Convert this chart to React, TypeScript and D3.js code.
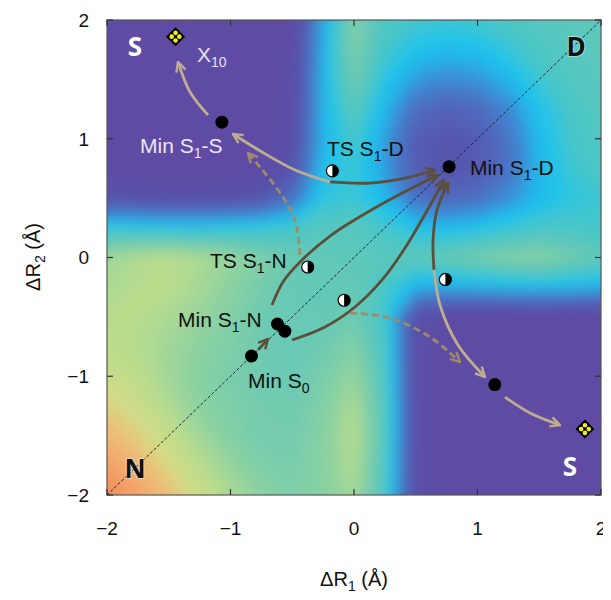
import React, { useEffect, useRef } from 'react';
import * as d3 from 'd3';

// grid of the energy surface, step 0.25 A, rows go from dR2 = 2 (top) to -2
const xGrid = d3.range(-2, 2.001, 0.25);
const yGrid = d3.range(2, -2.001, -0.25);
const energyRows = [
  [0.03, 0.02, 0.02, 0.02, 0.02, 0.02, 0.04, 0.32, 0.56, 0.44, 0.42, 0.41, 0.42, 0.44, 0.46, 0.47, 0.48],
  [0.03, 0.02, 0.02, 0.02, 0.02, 0.02, 0.05, 0.33, 0.55, 0.42, 0.37, 0.35, 0.36, 0.40, 0.44, 0.46, 0.48],
  [0.03, 0.02, 0.02, 0.02, 0.02, 0.03, 0.06, 0.34, 0.52, 0.38, 0.30, 0.27, 0.29, 0.34, 0.41, 0.45, 0.47],
  [0.03, 0.02, 0.02, 0.02, 0.02, 0.03, 0.07, 0.34, 0.47, 0.34, 0.21, 0.17, 0.20, 0.27, 0.37, 0.43, 0.46],
  [0.03, 0.02, 0.02, 0.02, 0.02, 0.03, 0.08, 0.34, 0.43, 0.31, 0.15, 0.12, 0.14, 0.23, 0.35, 0.42, 0.45],
  [0.04, 0.03, 0.03, 0.03, 0.03, 0.04, 0.12, 0.36, 0.41, 0.30, 0.15, 0.11, 0.14, 0.22, 0.34, 0.41, 0.44],
  [0.12, 0.10, 0.09, 0.09, 0.10, 0.12, 0.22, 0.39, 0.41, 0.34, 0.22, 0.19, 0.22, 0.28, 0.35, 0.39, 0.41],
  [0.40, 0.39, 0.38, 0.38, 0.39, 0.40, 0.42, 0.46, 0.46, 0.42, 0.37, 0.35, 0.37, 0.40, 0.43, 0.43, 0.42],
  [0.62, 0.65, 0.67, 0.64, 0.60, 0.55, 0.51, 0.49, 0.48, 0.47, 0.48, 0.50, 0.53, 0.56, 0.57, 0.53, 0.49],
  [0.64, 0.66, 0.67, 0.63, 0.58, 0.53, 0.50, 0.49, 0.50, 0.43, 0.33, 0.32, 0.33, 0.34, 0.35, 0.34, 0.33],
  [0.66, 0.66, 0.64, 0.60, 0.56, 0.52, 0.50, 0.50, 0.52, 0.42, 0.09, 0.04, 0.03, 0.03, 0.03, 0.03, 0.03],
  [0.68, 0.66, 0.62, 0.58, 0.55, 0.52, 0.50, 0.52, 0.56, 0.44, 0.08, 0.03, 0.02, 0.02, 0.02, 0.02, 0.02],
  [0.72, 0.68, 0.62, 0.57, 0.54, 0.52, 0.51, 0.54, 0.60, 0.45, 0.08, 0.03, 0.02, 0.02, 0.02, 0.02, 0.02],
  [0.78, 0.72, 0.65, 0.58, 0.55, 0.53, 0.52, 0.56, 0.64, 0.46, 0.08, 0.03, 0.02, 0.02, 0.02, 0.02, 0.02],
  [0.86, 0.78, 0.70, 0.62, 0.56, 0.53, 0.53, 0.57, 0.66, 0.46, 0.08, 0.03, 0.02, 0.02, 0.02, 0.02, 0.02],
  [0.94, 0.86, 0.76, 0.67, 0.60, 0.55, 0.54, 0.57, 0.65, 0.45, 0.08, 0.03, 0.02, 0.02, 0.02, 0.02, 0.02],
  [1.00, 0.93, 0.83, 0.72, 0.64, 0.58, 0.55, 0.57, 0.63, 0.44, 0.08, 0.03, 0.02, 0.02, 0.02, 0.02, 0.02],
];

const colorStops = [0, 0.1, 0.2, 0.28, 0.33, 0.37, 0.42, 0.5, 0.58, 0.66, 0.74, 0.82, 0.91, 1];
const colorRange = ['#614aa2', '#5852a9', '#4f6bc0', '#3a90d6', '#22b6ea', '#22c4ea', '#48c6c8', '#68c9b4', '#8ed2a0', '#b8dc8e', '#d2dc86', '#ecc07a', '#f4a66a', '#f28a5a'];

const ticks = [-2, -1, 0, 1, 2];

// stationary points
const minima = [
  { x: -0.83, y: -0.83 },
  { x: -0.62, y: -0.56 },
  { x: -0.56, y: -0.62 },
  { x: 0.77, y: 0.765 },
  { x: -1.07, y: 1.14 },
  { x: 1.14, y: -1.07 },
];
const transitionStates = [
  { x: -0.175, y: 0.73 },
  { x: -0.375, y: -0.08 },
  { x: -0.08, y: -0.36 },
  { x: 0.74, y: -0.185 },
];
const crossings = [
  { x: -1.445, y: 1.86 },
  { x: 1.87, y: -1.445 },
];

// reaction paths [x, y]
const paths = [
  { kind: 'olive', pts: [[-0.664, -0.4], [-0.575, -0.206], [-0.437, -0.038], [-0.194, 0.181], [0.211, 0.442], [0.68, 0.695]] },
  { kind: 'olive', pts: [[-0.502, -0.695], [-0.235, -0.585], [0.008, -0.417], [0.227, -0.189], [0.413, 0.08], [0.729, 0.653]] },
  { kind: 'olive', pts: [[0.648, -0.105], [0.64, 0.147], [0.672, 0.4], [0.761, 0.627]] },
  { kind: 'tan', pts: [[0.648, -0.105], [0.696, -0.4], [0.842, -0.737], [1.061, -1.006]] },
  { kind: 'olive', pts: [[-0.194, 0.636], [0.13, 0.627], [0.413, 0.669], [0.656, 0.737]] },
  { kind: 'tan', pts: [[-0.194, 0.636], [-0.478, 0.737], [-0.745, 0.888], [-0.98, 1.04]] },
  { kind: 'dash', pts: [[-0.437, 0.021], [-0.478, 0.316], [-0.615, 0.568], [-0.858, 0.88]] },
  { kind: 'dash', pts: [[-0.032, -0.467], [0.291, -0.509], [0.615, -0.669], [0.858, -0.88]] },
  { kind: 'tan', pts: [[-1.182, 1.2], [-1.328, 1.394], [-1.425, 1.646]] },
  { kind: 'tan', pts: [[1.223, -1.175], [1.425, -1.309], [1.668, -1.411]] },
  { kind: 'olive', pts: [[-0.777, -0.779], [-0.696, -0.686]] },
];

const labels = [
  { x: -1.733, y: 0.88, main: 'Min S', sub: '1', rest: '-S', color: '#ece8f4' },
  { x: -1.271, y: 1.646, main: 'X', sub: '10', rest: '', color: '#e4e0f0' },
  { x: -0.219, y: 0.855, main: 'TS S', sub: '1', rest: '-D', color: '#111' },
  { x: 0.939, y: 0.695, main: 'Min S', sub: '1', rest: '-D', color: '#111' },
  { x: -1.166, y: -0.088, main: 'TS S', sub: '1', rest: '-N', color: '#111' },
  { x: -1.425, y: -0.585, main: 'Min S', sub: '1', rest: '-N', color: '#111' },
  { x: -0.858, y: -1.103, main: 'Min S', sub: '0', rest: '', color: '#111' },
];
const regionLabels = [
  { x: -1.773, y: 1.773, text: 'S', color: '#fff' },
  { x: 1.798, y: 1.773, text: 'D', color: '#111' },
  { x: -1.773, y: -1.781, text: 'N', color: '#111' },
  { x: 1.749, y: -1.764, text: 'S', color: '#fff' },
];

const strokeOf = { olive: '#5b4e3b', tan: '#bdae8f', dash: '#9d8c6a' };

const App = () => {
  const svgRef = useRef(null);

  useEffect(() => {
    const svg = d3.select(svgRef.current);
    svg.selectAll('*').remove();
    const font = 'Liberation Sans, Arial, Helvetica, sans-serif';

    const x = d3.scaleLinear().domain([-2, 2]).range([107, 601]);
    const y = d3.scaleLinear().domain([-2, 2]).range([495, 20]);
    const color = d3.scaleLinear<string>().domain(colorStops).range(colorRange).interpolate(d3.interpolateRgb).clamp(true);

    const defs = svg.append('defs');
    defs.append('clipPath').attr('id', 'plotclip')
      .append('rect').attr('x', 107).attr('y', 20).attr('width', 494).attr('height', 475);
    defs.append('filter').attr('id', 'soft').attr('x', '-5%').attr('y', '-5%').attr('width', '110%').attr('height', '110%')
      .append('feGaussianBlur').attr('stdDeviation', 6);
    Object.entries(strokeOf).forEach(([k, c]) => {
      defs.append('marker').attr('id', 'head-' + k)
        .attr('viewBox', '0 0 10 10').attr('refX', 9).attr('refY', 5)
        .attr('markerWidth', 12).attr('markerHeight', 12)
        .attr('markerUnits', 'userSpaceOnUse').attr('orient', 'auto')
        .append('path').attr('d', 'M1,1 L9,5 L1,9')
        .attr('fill', 'none').attr('stroke', c).attr('stroke-width', 2).attr('stroke-linejoin', 'miter');
    });

    // heatmap via filled contours of the grid
    const nx = xGrid.length;
    const ny = yGrid.length;
    const values = energyRows.flat();
    const contours = d3.contours().size([nx, ny]).thresholds(d3.range(-0.01, 1.01, 0.01))(values);
    const step = 0.25;
    const proj = d3.geoTransform({
      point(cx, cy) {
        this.stream.point(x(xGrid[0] + (cx - 0.5) * step), y(yGrid[0] - (cy - 0.5) * step));
      },
    });
    const path = d3.geoPath(proj);
    const heat = svg.append('g').attr('clip-path', 'url(#plotclip)').append('g').attr('filter', 'url(#soft)');
    heat.selectAll('path').data(contours).enter().append('path')
      .attr('d', path)
      .attr('fill', (d) => color(d.value));

    const plot = svg.append('g').attr('clip-path', 'url(#plotclip)');

    // diagonal
    plot.append('line')
      .attr('x1', x(-2)).attr('y1', y(-2)).attr('x2', x(2)).attr('y2', y(2))
      .attr('stroke', '#16243f').attr('stroke-width', 1).attr('stroke-dasharray', '3,2');

    // region labels
    regionLabels.forEach((r) => {
      plot.append('text')
        .attr('x', x(r.x)).attr('y', y(r.y)).attr('dy', '0.36em')
        .attr('text-anchor', 'middle')
        .attr('font-family', 'Open Sans, Liberation Sans, sans-serif').attr('font-weight', 700).attr('font-size', 26)
        .attr('fill', r.color)
        .attr('stroke', r.color === '#fff' ? 'none' : 'rgba(255,255,255,0.45)').attr('stroke-width', 2)
        .attr('paint-order', 'stroke')
        .text(r.text);
    });

    // paths
    const line = d3.line().x((d) => x(d[0])).y((d) => y(d[1])).curve(d3.curveCatmullRom);
    paths.forEach((p) => {
      plot.append('path')
        .attr('d', line(p.pts))
        .attr('fill', 'none')
        .attr('stroke', strokeOf[p.kind])
        .attr('stroke-width', 2.8)
        .attr('stroke-dasharray', p.kind === 'dash' ? '7,4' : null)
        .attr('marker-end', `url(#head-${p.kind})`);
    });

    // minima
    plot.selectAll('circle.min').data(minima).enter().append('circle')
      .attr('class', 'min')
      .attr('cx', (d) => x(d.x)).attr('cy', (d) => y(d.y)).attr('r', 6.5)
      .attr('fill', '#000');

    // transition states: half white / half black
    transitionStates.forEach((d) => {
      const g = plot.append('g').attr('transform', `translate(${x(d.x)},${y(d.y)})`);
      g.append('circle').attr('r', 6).attr('fill', '#fff').attr('stroke', '#000').attr('stroke-width', 1.2);
      g.append('path').attr('d', 'M0,-6 A6,6 0 0 1 0,6 Z').attr('fill', '#000');
    });

    // crossing points
    crossings.forEach((d) => {
      const g = plot.append('g').attr('transform', `translate(${x(d.x)},${y(d.y)})`);
      g.append('path').attr('d', 'M0,-9.5 L9.5,0 L0,9.5 L-9.5,0 Z').attr('fill', '#000');
      [[0, -3.8], [3.8, 0], [0, 3.8], [-3.8, 0]].forEach(([dx, dy]) => {
        g.append('circle').attr('cx', dx).attr('cy', dy).attr('r', 2.3).attr('fill', '#f2ee1c');
      });
    });

    // point labels
    labels.forEach((l) => {
      const t = svg.append('text')
        .attr('x', x(l.x)).attr('y', y(l.y))
        .attr('font-family', font).attr('font-size', 21).attr('fill', l.color);
      t.append('tspan').text(l.main);
      t.append('tspan').attr('font-size', 14).attr('dy', 5).text(l.sub);
      if (l.rest) t.append('tspan').attr('dy', -5).text(l.rest);
    });

    // frame and ticks
    svg.append('rect')
      .attr('x', 107).attr('y', 20).attr('width', 494).attr('height', 475)
      .attr('fill', 'none').attr('stroke', '#555').attr('stroke-width', 1.2);
    const tk = svg.append('g').attr('stroke', '#333').attr('stroke-width', 1.2);
    ticks.forEach((t) => {
      tk.append('line').attr('x1', x(t)).attr('x2', x(t)).attr('y1', 495).attr('y2', 489);
      tk.append('line').attr('x1', x(t)).attr('x2', x(t)).attr('y1', 20).attr('y2', 26);
      tk.append('line').attr('y1', y(t)).attr('y2', y(t)).attr('x1', 107).attr('x2', 113);
      tk.append('line').attr('y1', y(t)).attr('y2', y(t)).attr('x1', 601).attr('x2', 595);
    });
    const fmt = (v) => (v < 0 ? '\u2212' + Math.abs(v) : String(v));
    svg.selectAll('text.xt').data(ticks).enter().append('text')
      .attr('class', 'xt')
      .attr('x', (d) => x(d)).attr('y', 535)
      .attr('text-anchor', 'middle')
      .attr('font-family', font).attr('font-size', 19).attr('fill', '#111')
      .text(fmt);
    svg.selectAll('text.yt').data(ticks).enter().append('text')
      .attr('class', 'yt')
      .attr('x', 89).attr('y', (d) => y(d)).attr('dy', '0.36em')
      .attr('text-anchor', 'end')
      .attr('font-family', font).attr('font-size', 19).attr('fill', '#111')
      .text(fmt);

    // axis titles
    const xt = svg.append('text')
      .attr('x', 354).attr('y', 586).attr('text-anchor', 'middle')
      .attr('font-family', font).attr('font-size', 20).attr('fill', '#111');
    xt.append('tspan').text('\u0394R');
    xt.append('tspan').attr('font-size', 14).attr('dy', 5).text('1');
    xt.append('tspan').attr('dy', -5).text(' (\u00c5)');

    const yt = svg.append('text')
      .attr('transform', 'translate(40,257) rotate(-90)').attr('text-anchor', 'middle')
      .attr('font-family', font).attr('font-size', 20).attr('fill', '#111');
    yt.append('tspan').text('\u0394R');
    yt.append('tspan').attr('font-size', 14).attr('dy', 5).text('2');
    yt.append('tspan').attr('dy', -5).text(' (\u00c5)');
  }, []);

  return (
    <svg ref={svgRef} width={611} height={600} style={{ display: 'block', margin: '-8px' }}></svg>
  );
};

export default App;
